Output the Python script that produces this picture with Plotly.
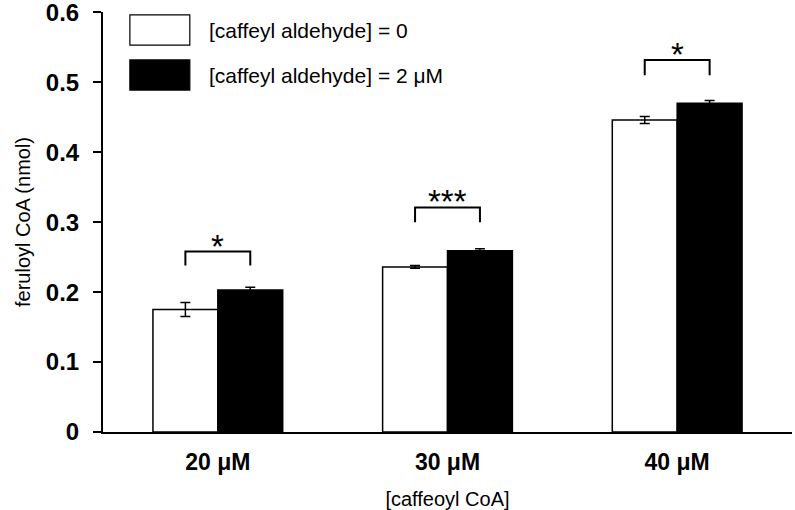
import plotly.graph_objects as go

# ---- data ----
categories = ["20 μM", "30 μM", "40 μM"]
ctrl_vals = [0.175, 0.236, 0.446]
ctrl_errs = [0.010, 0.002, 0.005]
ald_vals = [0.203, 0.259, 0.470]
ald_errs = [0.004, 0.003, 0.004]
series_names = ["[caffeyl aldehyde] = 0", "[caffeyl aldehyde] = 2 μM"]
sig_labels = ["*", "***", "*"]
bracket_top = [0.258, 0.321, 0.532]
bracket_drop = [0.020, 0.021, 0.022]
ytick_vals = [0, 0.1, 0.2, 0.3, 0.4, 0.5, 0.6]
ytick_text = ["0", "0.1", "0.2", "0.3", "0.4", "0.5", "0.6"]

FONT = "Arial, Liberation Sans, Helvetica, sans-serif"
BARGAP = 0.435
half = (1 - BARGAP) / 4  # offset of each bar centre from category centre

fig = go.Figure()
fig.add_trace(go.Bar(
    x=list(range(len(categories))), y=ctrl_vals, name=series_names[0],
    marker=dict(color="white", line=dict(color="black", width=1.5)),
    error_y=dict(type="data", array=ctrl_errs, color="black", thickness=1.5, width=5),
    showlegend=False,
))
fig.add_trace(go.Bar(
    x=list(range(len(categories))), y=ald_vals, name=series_names[1],
    marker=dict(color="black", line=dict(color="black", width=1.5)),
    error_y=dict(type="data", array=ald_errs, color="black", thickness=1.5, width=5),
    showlegend=False,
))

# significance brackets
for i, (top, drop, lab) in enumerate(zip(bracket_top, bracket_drop, sig_labels)):
    x0, x1 = i - half, i + half
    fig.add_shape(type="path",
                  path=f"M {x0} {top - drop} L {x0} {top} L {x1} {top} L {x1} {top - drop}",
                  xref="x", yref="y", line=dict(color="black", width=2))
    fig.add_annotation(x=i, y=top, xref="x", yref="y", text=lab, showarrow=False,
                       yanchor="bottom", yshift=-15,
                       font=dict(family=FONT, size=33, color="black"))

# custom legend
legend_boxes = [(0.993, 0.921, "white"), (0.886, 0.814, "black")]
for (ytop, ybot, col), name in zip(legend_boxes, series_names):
    fig.add_shape(type="rect", xref="paper", yref="paper",
                  x0=0.039, x1=0.126, y0=ybot, y1=ytop,
                  fillcolor=col, line=dict(color="black", width=1.2))
    fig.add_annotation(xref="paper", yref="paper", x=0.151, y=(ytop + ybot) / 2,
                       xanchor="left", yanchor="middle", text=name, showarrow=False,
                       font=dict(family=FONT, size=21, color="black"))

fig.update_layout(
    width=795, height=510,
    margin=dict(l=103, r=3, t=12, b=78),
    paper_bgcolor="white", plot_bgcolor="white",
    barmode="group", bargap=BARGAP, bargroupgap=0,
    font=dict(family=FONT, color="black"),
)
fig.update_xaxes(
    range=[-0.5, 2.5], tickvals=list(range(len(categories))), ticktext=categories,
    showline=True, linecolor="black", linewidth=2, ticks="", showgrid=False,
    zeroline=False, tickfont=dict(family=FONT, size=23, color="black", weight="bold"),
    ticklabelstandoff=8, automargin=False,
    title=dict(text="[caffeoyl CoA]", font=dict(family=FONT, size=20, color="black"), standoff=20),
)
fig.update_yaxes(
    range=[0, 0.6005], tickvals=ytick_vals, ticktext=ytick_text,
    showline=True, linecolor="black", linewidth=2, ticks="outside", ticklen=8,
    tickwidth=2, tickcolor="black", showgrid=False, zeroline=False,
    tickfont=dict(family=FONT, size=24, color="black", weight="bold"),
    ticklabelstandoff=9, automargin=False, ticklabeloverflow="allow",
    title=dict(text="feruloyl CoA (nmol)", font=dict(family=FONT, size=20, color="black"), standoff=10),
)

fig.write_html("out.html", config={"displayModeBar": False},
               post_script="document.body.style.margin='0px';")
